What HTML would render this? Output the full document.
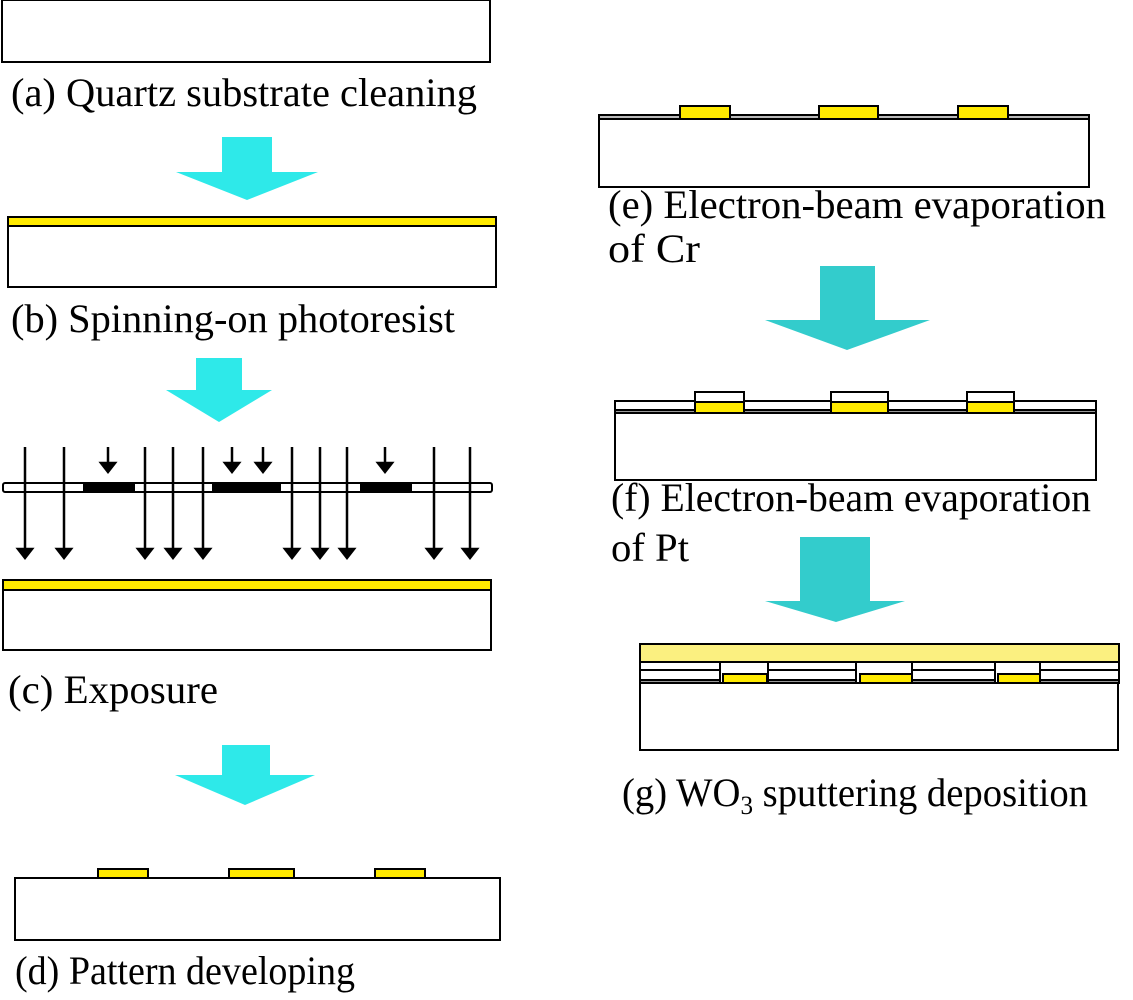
<!DOCTYPE html>
<html><head><meta charset="utf-8"><style>
html,body{margin:0;padding:0;background:#fff;width:1133px;height:1000px;overflow:hidden}
text{font-family:"Liberation Serif",serif;font-size:40px;fill:#000}
</style></head><body>
<svg width="1133" height="1000" viewBox="0 0 1133 1000" xmlns="http://www.w3.org/2000/svg">
<g stroke="#000" stroke-width="2" fill="#fff">
<rect x="2" y="0" width="488" height="62"/>
<rect x="8" y="226" width="488" height="61"/>
<rect x="8" y="217" width="488" height="9" fill="#ffea00"/>
<rect x="3" y="483" width="489" height="9" rx="2"/>
<rect x="84" y="483" width="50" height="9" fill="#000"/>
<rect x="213" y="483" width="67" height="9" fill="#000"/>
<rect x="361" y="483" width="50" height="9" fill="#000"/>
<rect x="3" y="590" width="488" height="60"/>
<rect x="3" y="580" width="488" height="10" fill="#ffea00"/>
<rect x="15" y="878" width="485" height="62"/>
<rect x="98" y="869" width="50" height="9" fill="#ffea00"/>
<rect x="229" y="869" width="65" height="9" fill="#ffea00"/>
<rect x="375" y="869" width="50" height="9" fill="#ffea00"/>
<rect x="599" y="119" width="490" height="68"/>
<rect x="599" y="115" width="490" height="4" fill="#bbb"/>
<rect x="680" y="106" width="50" height="13" fill="#ffea00"/>
<rect x="819" y="106" width="59" height="13" fill="#ffea00"/>
<rect x="958" y="106" width="50" height="13" fill="#ffea00"/>
<rect x="615" y="413" width="481" height="67"/>
<rect x="615" y="401" width="481" height="9"/>
<rect x="615" y="410" width="481" height="3" fill="#999"/>
<rect x="695" y="392" width="49" height="10"/>
<rect x="695" y="402" width="49" height="11" fill="#ffea00"/>
<rect x="831" y="392" width="57" height="10"/>
<rect x="831" y="402" width="57" height="11" fill="#ffea00"/>
<rect x="967" y="392" width="47" height="10"/>
<rect x="967" y="402" width="47" height="11" fill="#ffea00"/>
<rect x="640" y="683" width="478" height="67"/>
<rect x="640" y="644" width="479" height="18" fill="#fbf080"/>
<rect x="640" y="662" width="479" height="8"/>
<rect x="640" y="670" width="479" height="10"/>
<rect x="640" y="680" width="479" height="3" fill="#999"/>
<rect x="720" y="662" width="48" height="21"/>
<rect x="723" y="674" width="44" height="9" fill="#ffea00"/>
<rect x="856" y="662" width="56" height="21"/>
<rect x="860" y="674" width="52" height="9" fill="#ffea00"/>
<rect x="995" y="662" width="45" height="21"/>
<rect x="998" y="674" width="42" height="9" fill="#ffea00"/>
</g>
<g stroke="#000" stroke-width="2.5" fill="#000">
<line x1="108" y1="447" x2="108" y2="464"/><polygon points="101,463 115,463 108,472"/>
<line x1="232" y1="447" x2="232" y2="464"/><polygon points="225,463 239,463 232,472"/>
<line x1="263" y1="447" x2="263" y2="464"/><polygon points="256,463 270,463 263,472"/>
<line x1="385" y1="447" x2="385" y2="464"/><polygon points="378,463 392,463 385,472"/>
<line x1="25" y1="447" x2="25" y2="550"/><polygon points="18,549 32,549 25,558"/>
<line x1="64" y1="447" x2="64" y2="550"/><polygon points="57,549 71,549 64,558"/>
<line x1="145" y1="447" x2="145" y2="550"/><polygon points="138,549 152,549 145,558"/>
<line x1="173" y1="447" x2="173" y2="550"/><polygon points="166,549 180,549 173,558"/>
<line x1="203" y1="447" x2="203" y2="550"/><polygon points="196,549 210,549 203,558"/>
<line x1="292" y1="447" x2="292" y2="550"/><polygon points="285,549 299,549 292,558"/>
<line x1="320" y1="447" x2="320" y2="550"/><polygon points="313,549 327,549 320,558"/>
<line x1="347" y1="447" x2="347" y2="550"/><polygon points="340,549 354,549 347,558"/>
<line x1="434" y1="447" x2="434" y2="550"/><polygon points="427,549 441,549 434,558"/>
<line x1="470" y1="447" x2="470" y2="550"/><polygon points="463,549 477,549 470,558"/>
</g>
<polygon fill="#2ee9e9" points="222,137 272,137 272,172 318,172 247,200 176,172 222,172"/>
<polygon fill="#2ee9e9" points="196,358 242,358 242,390 272,390 219,422 166,390 196,390"/>
<polygon fill="#2ee9e9" points="222,745 270,745 270,775 315,775 245,805 175,775 222,775"/>
<polygon fill="#33cccc" points="820,266 875,266 875,320 930,320 847,350 765,320 820,320"/>
<polygon fill="#33cccc" points="800,537 870,537 870,601 905,601 836,622 765,601 800,601"/>
<text x="11" y="106" textLength="466" lengthAdjust="spacingAndGlyphs">(a) Quartz substrate cleaning</text>
<text x="11" y="332" textLength="444" lengthAdjust="spacingAndGlyphs">(b) Spinning-on photoresist</text>
<text x="8" y="703" textLength="210" lengthAdjust="spacingAndGlyphs">(c) Exposure</text>
<text x="15" y="984" textLength="340" lengthAdjust="spacingAndGlyphs">(d) Pattern developing</text>
<text x="608" y="218" textLength="498" lengthAdjust="spacingAndGlyphs">(e) Electron-beam evaporation</text>
<text x="608" y="262" textLength="92" lengthAdjust="spacingAndGlyphs">of Cr</text>
<text x="611" y="511" textLength="480" lengthAdjust="spacingAndGlyphs">(f) Electron-beam evaporation</text>
<text x="611" y="561" textLength="78" lengthAdjust="spacingAndGlyphs">of Pt</text>
<text x="622" y="806" textLength="466" lengthAdjust="spacingAndGlyphs">(g) WO<tspan font-size="26" dy="8">3</tspan><tspan dy="-8"> sputtering deposition</tspan></text>
</svg>
</body></html>
